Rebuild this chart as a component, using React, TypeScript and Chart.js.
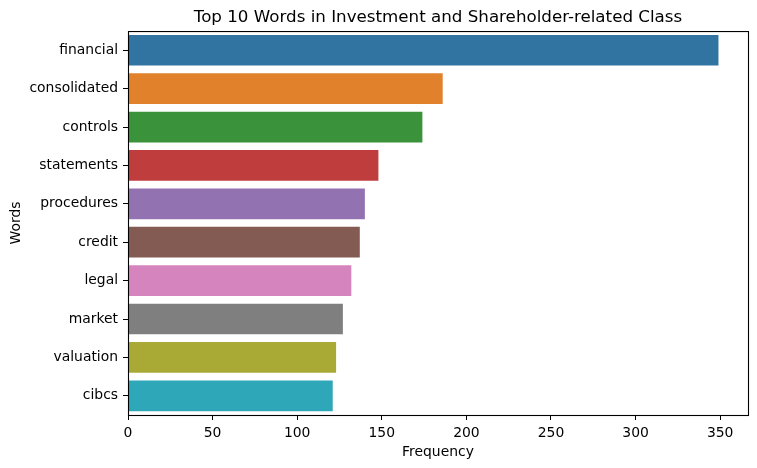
import React, { useEffect, useRef } from "react";
import { Chart, registerables } from "chart.js";

Chart.register(...registerables);

const words = [
  "financial",
  "consolidated",
  "controls",
  "statements",
  "procedures",
  "credit",
  "legal",
  "market",
  "valuation",
  "cibcs",
];
const frequencies = [349, 186, 174, 148, 140, 137, 132, 127, 123, 121];
const barColors = [
  "#3274a1",
  "#e1812c",
  "#3a923a",
  "#c03d3e",
  "#9372b2",
  "#845b53",
  "#d684bd",
  "#7f7f7f",
  "#a9aa35",
  "#2ea8b8",
];
const xTickStep = 50;
const titleText = "Top 10 Words in Investment and Shareholder-related Class";
const xLabel = "Frequency";
const yLabel = "Words";

const FONT = "'DejaVu Sans', sans-serif";

const framePlugin = {
  id: "frame",
  afterDraw(chart: any) {
    const { ctx, chartArea } = chart;
    const { left, right, top, bottom } = chartArea;
    ctx.save();
    ctx.strokeStyle = "#000";
    ctx.lineWidth = 1.1;
    ctx.strokeRect(left + 0.5, top + 0.5, right - left, bottom - top);
    ctx.restore();
  },
};

export default function App() {
  const ref = useRef<HTMLCanvasElement | null>(null);
  useEffect(() => {
    if (!ref.current) return;
    const xMax = Math.max(...frequencies) * 1.05;
    const chart = new Chart(ref.current, {
      type: "bar",
      data: {
        labels: words,
        datasets: [
          {
            data: frequencies,
            backgroundColor: barColors,
            borderWidth: 0,
            barPercentage: 0.8,
            categoryPercentage: 1,
          },
        ],
      },
      options: {
        indexAxis: "y",
        responsive: false,
        animation: false,
        layout: { padding: { left: 0, right: 9, top: 0, bottom: 0 } },
        plugins: {
          legend: { display: false },
          tooltip: { enabled: false },
          title: {
            display: true,
            text: titleText,
            fullSize: false,
            color: "#000",
            font: { family: FONT, size: 16.7, weight: "normal" },
            padding: { top: 8, bottom: 3 },
          },
        },
        scales: {
          x: {
            type: "linear",
            min: 0,
            max: xMax,
            afterFit(scale: any) {
              scale.height = 53;
            },
            ticks: {
              stepSize: xTickStep,
              includeBounds: false,
              color: "#000",
              padding: 5,
              font: { family: FONT, size: 13.9 },
              maxRotation: 0,
            },
            grid: {
              drawOnChartArea: false,
              drawTicks: true,
              tickLength: 5,
              color: "#000",
              lineWidth: 1,
            },
            border: { display: false },
            title: {
              display: true,
              text: xLabel,
              color: "#000",
              font: { family: FONT, size: 13.9 },
              padding: { top: 0, bottom: 7 },
            },
          },
          y: {
            type: "category",
            afterFit(scale: any) {
              scale.width = 128;
            },
            ticks: {
              color: "#000",
              padding: 5,
              font: { family: FONT, size: 13.9 },
            },
            grid: {
              offset: false,
              drawOnChartArea: false,
              drawTicks: true,
              tickLength: 5,
              color: "#000",
              lineWidth: 1,
            },
            border: { display: false },
            title: {
              display: true,
              text: yLabel,
              color: "#000",
              font: { family: FONT, size: 13.9 },
              padding: { top: 8.5, bottom: 0 },
            },
          },
        },
      },
      plugins: [framePlugin],
    });
    return () => chart.destroy();
  }, []);
  return (
    <div style={{ position: "fixed", left: 0, top: 0, width: 757, height: 468, background: "#fff" }}>
      <canvas ref={ref} width={757} height={468} style={{ width: 757, height: 468 }} />
    </div>
  );
}
